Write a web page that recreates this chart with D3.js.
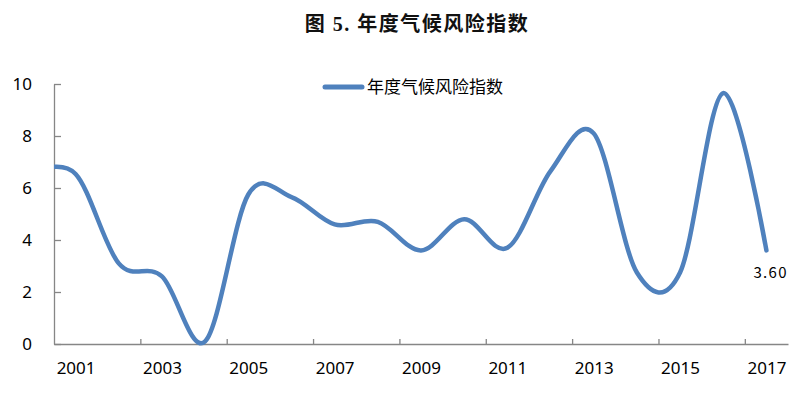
<!DOCTYPE html>
<html>
<head>
<meta charset="utf-8">
<script src="https://cdn.jsdelivr.net/npm/d3@7"></script>
<style>
  html, body { margin: 0; padding: 0; background: #fff; }
  svg { display: block; }
</style>
</head>
<body>
<svg id="chart" width="796" height="395"></svg>
<script>
// ---- data ----
const chartTitle = "图 5. 年度气候风险指数";
const seriesName = "年度气候风险指数";
// 2000 lies just left of the plot area (line is clipped at the axis)
const years  = [2000, 2001, 2002, 2003, 2004, 2005, 2006, 2007, 2008, 2009, 2010, 2011, 2012, 2013, 2014, 2015, 2016, 2017];
const values = [6.6, 6.54, 3.1, 2.6, 0.1, 5.75, 5.65, 4.6, 4.7, 3.6, 4.8, 3.7, 6.65, 8.1, 2.75, 2.75, 9.65, 3.6];
const xLabelYears = [2001, 2003, 2005, 2007, 2009, 2011, 2013, 2015, 2017];
const xTickBounds = [2002.5, 2004.5, 2006.5, 2008.5, 2010.5, 2012.5, 2014.5, 2016.5];
const yTicks = [0, 2, 4, 6, 8, 10];

// ---- layout ----
const svg = d3.select("#chart");
const plot = { left: 54, right: 788, top: 84, bottom: 344 };
const axisColor = "#868686";
const lineColor = "#4F81BD";
const labelFont = "'Noto Sans', 'Noto Sans CJK SC', sans-serif";

const x = d3.scaleLinear().domain([2000.5, 2017.5]).range([plot.left, plot.right]);
const y = d3.scaleLinear().domain([0, 10]).range([plot.bottom, plot.top]);

// title
svg.append("text")
  .attr("x", 417).attr("y", 31)
  .attr("text-anchor", "middle")
  .attr("font-family", "'Liberation Serif', 'Noto Sans CJK SC', serif")
  .attr("font-weight", "bold")
  .attr("font-size", 20)
  .attr("letter-spacing", 1.5)
  .attr("fill", "#111")
  .text(chartTitle);

// y axis
const yAxis = d3.axisLeft(y).tickValues(yTicks).tickSize(-7).tickPadding(0).tickSizeOuter(0)
  .tickFormat(d3.format("d"));
const gy = svg.append("g").attr("transform", `translate(${plot.left},0)`).call(yAxis);
gy.select(".domain").attr("stroke", axisColor).attr("stroke-width", 1.3);
gy.selectAll(".tick line").attr("stroke", axisColor).attr("stroke-width", 1.3);
gy.selectAll(".tick text")
  .attr("x", -22)
  .attr("font-family", labelFont).attr("font-size", 17).attr("fill", "#000");

// x axis: boundary tick marks
const xAxisTicks = d3.axisBottom(x).tickValues(xTickBounds).tickSize(-5).tickFormat("").tickSizeOuter(0);
const gx = svg.append("g").attr("transform", `translate(0,${plot.bottom})`).call(xAxisTicks);
gx.select(".domain").attr("stroke", axisColor).attr("stroke-width", 1.3);
gx.selectAll(".tick line").attr("stroke", axisColor).attr("stroke-width", 1.3);

// x labels at category centres
const xLabels = d3.axisBottom(x).tickValues(xLabelYears).tickSize(0).tickPadding(18).tickFormat(d3.format("d"));
const gxl = svg.append("g").attr("transform", `translate(0,${plot.bottom})`).call(xLabels);
gxl.select(".domain").remove();
gxl.selectAll(".tick text").attr("font-family", labelFont).attr("font-size", 17).attr("fill", "#000");

// clip
svg.append("clipPath").attr("id", "plotclip")
  .append("rect").attr("x", plot.left).attr("y", 0)
  .attr("width", plot.right - plot.left + 10).attr("height", 395);

// line
const data = years.map((yr, i) => ({ yr, v: values[i] }));
const line = d3.line()
  .x(d => x(d.yr)).y(d => y(d.v))
  .curve(d3.curveCatmullRom.alpha(0));
svg.append("path")
  .datum(data)
  .attr("clip-path", "url(#plotclip)")
  .attr("d", line)
  .attr("fill", "none")
  .attr("stroke", lineColor)
  .attr("stroke-width", 4.5)
  .attr("stroke-linecap", "round")
  .attr("stroke-linejoin", "round");

// end label
const last = data[data.length - 1];
svg.append("text")
  .attr("x", x(last.yr) - 13).attr("y", y(last.v) + 28)
  .attr("font-family", "'Noto Sans CJK SC', sans-serif")
  .attr("font-size", 15)
  .attr("letter-spacing", 1.3)
  .attr("fill", "#000")
  .text(d3.format(".2f")(last.v));

// legend
const lg = svg.append("g");
lg.append("line")
  .attr("x1", 325).attr("x2", 362).attr("y1", 87).attr("y2", 87)
  .attr("stroke", lineColor).attr("stroke-width", 5).attr("stroke-linecap", "round");
lg.append("text")
  .attr("x", 367).attr("y", 93)
  .attr("font-family", "'Noto Sans CJK SC', sans-serif")
  .attr("font-size", 17)
  .attr("fill", "#000")
  .text(seriesName);
</script>
</body>
</html>
